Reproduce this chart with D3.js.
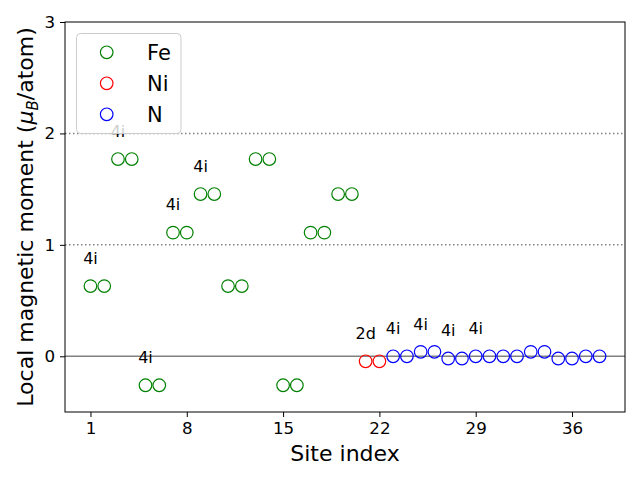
<!DOCTYPE html>
<html><head><meta charset="utf-8">
<script src="https://cdn.jsdelivr.net/npm/d3@7"></script>
<style>body{margin:0;background:#fff}svg{display:block;font-family:"DejaVu Sans",sans-serif}</style>
</head><body><svg id="c" width="640" height="480"></svg>
<script>
const feSites = [1,2,3,4,5,6,7,8,9,10,11,12,13,14,15,16,17,18,19,20];
const feValues = [0.63,0.63,1.77,1.77,-0.26,-0.26,1.11,1.11,1.456,1.456,0.63,0.63,1.77,1.77,-0.26,-0.26,1.11,1.11,1.456,1.456];
const niSites = [21,22];
const niValues = [-0.045,-0.045];
const nSites = [23,24,25,26,27,28,29,30,31,32,33,34,35,36,37,38];
const nValues = [0.0,0.0,0.04,0.04,-0.02,-0.02,0.0,0.0,0.0,0.0,0.04,0.04,-0.02,-0.02,0.0,0.0];
const wyckoffSites = [1,3,5,7,9,21,23,25,27,29];
const wyckoffLabels = ["4i","4i","4i","4i","4i","2d","4i","4i","4i","4i"];
const xTicks = [1,8,15,22,29,36];
const yTicks = [0,1,2,3];
const seriesNames = ["Fe","Ni","N"];
const seriesColors = ["green","red","blue"];

const allSites = feSites.concat(niSites, nSites);
const allValues = feValues.concat(niValues, nValues);
const valueOf = s => allValues[allSites.indexOf(s)];

const svg = d3.select("#c");
const L=65, R=625, T=22, B=412;
const x = d3.scaleLinear().domain([-0.85, 39.85]).range([L, R]);
const y = d3.scaleLinear().domain([-0.5, 3]).range([B, T]);

const g = svg.append("g");
g.append("line").attr("x1",L).attr("x2",R).attr("y1",y(0)).attr("y2",y(0)).attr("stroke","#808080").attr("stroke-width",1.5);
[1,2].forEach(v=>g.append("line").attr("x1",L).attr("x2",R).attr("y1",y(v)).attr("y2",y(v)).attr("stroke","#808080").attr("stroke-width",1.5).attr("stroke-dasharray","1.5,2.5"));

const series = [[feSites,feValues],[niSites,niValues],[nSites,nValues]];
series.forEach((s,i)=>{
  g.selectAll(null).data(s[0].map((d,j)=>[d,s[1][j]])).enter().append("circle")
   .attr("cx",d=>x(d[0])).attr("cy",d=>y(d[1])).attr("r",6.3)
   .attr("fill","none").attr("stroke",seriesColors[i]).attr("stroke-width",1.2);
});

g.selectAll(null).data(wyckoffSites.map((s,i)=>[s,wyckoffLabels[i]])).enter().append("text")
 .attr("x",d=>x(d[0])).attr("y",d=>y(valueOf(d[0])+0.2)).attr("text-anchor","middle")
 .attr("font-size",16).attr("fill","#000").text(d=>d[1]);

const xa = svg.append("g").attr("transform",`translate(0,${B})`).call(d3.axisBottom(x).tickValues(xTicks).tickFormat(d3.format("d")).tickSize(5).tickPadding(5));
const ya = svg.append("g").attr("transform",`translate(${L},0)`).call(d3.axisLeft(y).tickValues(yTicks).tickFormat(d3.format("d")).tickSize(5).tickPadding(5));
[xa,ya].forEach(a=>{a.select(".domain").remove();a.selectAll("text").attr("font-size",16.7).attr("font-family","DejaVu Sans").attr("fill","#000");a.selectAll("line").attr("stroke","#000").attr("stroke-width",1);});
svg.append("rect").attr("x",L).attr("y",T).attr("width",R-L).attr("height",B-T).attr("fill","none").attr("stroke","#000").attr("stroke-width",1);

svg.append("text").attr("x",(L+R)/2).attr("y",461).attr("text-anchor","middle").attr("font-size",22).text("Site index");
const yl = svg.append("text").attr("transform",`translate(33,${(T+B)/2}) rotate(-90)`).attr("text-anchor","middle").attr("font-size",22);
yl.append("tspan").text("Local magnetic moment (");
yl.append("tspan").attr("font-style","italic").text("μ");
yl.append("tspan").attr("font-style","italic").attr("font-size",15).attr("dy",5).text("B");
yl.append("tspan").attr("dy",-5).text("/atom)");

const lg = svg.append("g");
lg.append("rect").attr("x",76.5).attr("y",33.5).attr("width",104.5).attr("height",100).attr("rx",4)
  .attr("fill","white").attr("fill-opacity",0.8).attr("stroke","#ccc").attr("stroke-width",1);
seriesNames.forEach((n,i)=>{
  const yy = 52.3 + i*31;
  lg.append("circle").attr("cx",106.7).attr("cy",yy).attr("r",6.3).attr("fill","none").attr("stroke",seriesColors[i]).attr("stroke-width",1.2);
  lg.append("text").attr("x",147).attr("y",yy+7.5).attr("font-size",21).text(n);
});
</script></body></html>
